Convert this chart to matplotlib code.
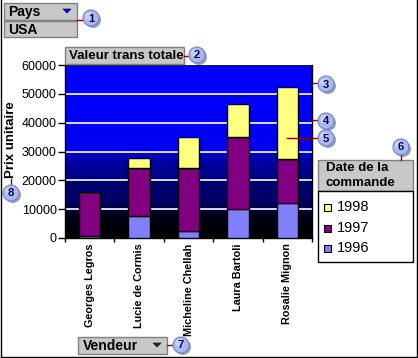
import matplotlib
matplotlib.use("Agg")
import matplotlib.pyplot as plt
import numpy as np
from matplotlib.patches import Rectangle, Circle, Polygon
from matplotlib.colors import LinearSegmentedColormap

plt.rcParams['font.family'] = ['Liberation Sans Narrow', 'Liberation Sans', 'DejaVu Sans']

# ---- data ----
vendeurs = ["Georges Legros", "Lucie de Cormis", "Micheline Chellah", "Laura Bartoli", "Rosalie Mignon"]
annees = ["1996", "1997", "1998"]
v1996 = [600, 7800, 2300, 10000, 12300]
v1997 = [15500, 16400, 21900, 25000, 15100]
v1998 = [0, 3500, 10700, 11500, 24900]
yticks = [0, 10000, 20000, 30000, 40000, 50000, 60000]
couleurs = {"1996": "#8080FF", "1997": "#800080", "1998": "#FFFF80"}

W, H = 418, 358
fig = plt.figure(figsize=(W / 100, H / 100), dpi=100)
fig.patch.set_facecolor("white")

# main axes (pixel box: x 65..312, y 65..238)
ax = fig.add_axes([65 / W, 1 - 238 / H, 247 / W, 173 / H])
x = np.arange(len(vendeurs))
ax.set_xlim(-0.5, len(vendeurs) - 0.5)
ax.set_ylim(0, 60000)

# gradient background
stops = [(0.0, "#000000"), (8000 / 60000, "#000018"), (12000 / 60000, "#000060"),
         (20000 / 60000, "#000078"), (27000 / 60000, "#0000A8"), (31000 / 60000, "#0000F0"),
         (1.0, "#0000FF")]
cmap = LinearSegmentedColormap.from_list("bg", stops)
grad = np.linspace(0, 1, 256).reshape(-1, 1)
ax.imshow(grad, extent=[-0.5, len(vendeurs) - 0.5, 0, 60000], origin="lower",
          aspect="auto", cmap=cmap, zorder=0)

for yv in yticks[1:-1]:
    ax.axhline(yv, color="white", lw=1.2, zorder=1)

bw = 0.43
b = np.zeros(len(vendeurs))
for year, vals in zip(annees, [v1996, v1997, v1998]):
    vals = np.array(vals)
    ax.bar(x, vals, bw, bottom=b, color=couleurs[year], edgecolor="black", lw=1.0, zorder=3)
    b = b + vals

ax.set_yticks(yticks)
ax.set_yticklabels([str(t) for t in yticks], fontsize=9)
ax.tick_params(axis="y", length=5, width=1, pad=1, color="black")
ax.set_xticks(x)
ax.set_xticklabels(vendeurs, rotation=90, fontsize=7.8, fontweight="bold", va="top", ha="center")
ax.tick_params(axis="x", which="major", length=0, pad=4)
ax.set_xticks(np.arange(-0.5, len(vendeurs)), minor=True)
ax.tick_params(axis="x", which="minor", length=3, width=1, color="black")
for s in ["left", "bottom", "right"]:
    ax.spines[s].set_color("black")
    ax.spines[s].set_linewidth(1)
ax.spines["top"].set_visible(False)

# ---- overlay in pixel coords ----
ov = fig.add_axes([0, 0, 1, 1], facecolor="none")
ov.set_xlim(0, W)
ov.set_ylim(H, 0)
ov.axis("off")

gray = "#C8C8C8"
edge = "#808080"

def box(x0, y0, x1, y1, fc=gray, ec=edge, lw=1):
    ov.add_patch(Rectangle((x0, y0), x1 - x0, y1 - y0, facecolor=fc, edgecolor=ec, lw=lw, zorder=5))

def tri(cx, cy, color):
    ov.add_patch(Polygon([[cx - 4, cy - 2], [cx + 4, cy - 2], [cx, cy + 2]], closed=True,
                         facecolor=color, edgecolor=color, lw=0.5, zorder=6))

def callout(cx, cy, n):
    ov.add_patch(Circle((cx + 2, cy + 2), 8, facecolor="#303030", alpha=0.45, edgecolor="none", zorder=7))
    ov.add_patch(Circle((cx, cy), 8, facecolor="#A9BAF2", edgecolor="#6F82C8", lw=0.8, zorder=8))
    ov.add_patch(Circle((cx - 2, cy - 2), 4, facecolor="#D2DCFF", edgecolor="none", alpha=0.7, zorder=8))
    ov.text(cx, cy + 0.5, str(n), ha="center", va="center", fontsize=8, fontweight="bold",
            color="#000050", zorder=9)

def lead(xs, ys):
    ov.plot(xs, ys, color="#900000", lw=1, zorder=6)

# Pays / USA
box(4, 3, 77, 20)
ov.text(8, 12, "Pays", fontsize=10, fontweight="bold", va="center", ha="left", zorder=6)
tri(67, 11, "#0000C0")
box(4, 21, 77, 37)
ov.text(8, 29.5, "USA", fontsize=10, fontweight="bold", va="center", ha="left", zorder=6)
lead([77, 84], [20, 20])
callout(91, 18, 1)

# Valeur trans totale
box(65, 47, 184, 64)
ov.text(69, 56, "Valeur trans totale", fontsize=9.5, fontweight="bold", va="center", ha="left", zorder=6)
lead([184, 190], [56, 56])
callout(197, 55, 2)

# callouts 3, 4, 5
lead([312, 319], [83, 83])
callout(326, 84, 3)
lead([312, 319], [120, 120])
callout(326, 121, 4)
lead([287, 319], [138, 138])
callout(326, 138, 5)

# legend
box(318, 160, 413, 191)
ov.text(326, 168, "Date de la", fontsize=9.5, fontweight="bold", va="center", ha="left", zorder=6)
ov.text(326, 183, "commande", fontsize=9.5, fontweight="bold", va="center", ha="left", zorder=6)
lead([401, 401], [154, 160])
callout(401, 147, 6)
box(318, 191, 413, 262, fc="white", ec="black")
for yy, year in zip([207, 228, 248], ["1998", "1997", "1996"]):
    ov.add_patch(Rectangle((323.5, yy - 3.5), 7, 7, facecolor=couleurs[year], edgecolor="black",
                           lw=0.8, zorder=6))
    ov.text(337, yy, year, fontsize=10.5, va="center", ha="left", zorder=6)

# Vendeur
box(78, 337, 167, 354)
ov.text(83, 345.5, "Vendeur", fontsize=10, fontweight="bold", va="center", ha="left", zorder=6)
tri(157, 345, "#202020")
lead([167, 174], [345, 345])
callout(181, 345, 7)

# y axis title
ov.text(11.5, 140, "Prix unitaire", rotation=90, fontsize=9.5, fontweight="bold",
        va="center", ha="center", zorder=6)
lead([11, 11], [179, 186])
callout(11, 193, 8)

# outer border (left, right, bottom)
ov.plot([0.5, 0.5], [0, H - 1.5], color="black", lw=1, zorder=10)
ov.plot([W - 1.5, W - 1.5], [0, H - 1.5], color="black", lw=1, zorder=10)
ov.plot([0.5, W - 1.5], [H - 1.5, H - 1.5], color="black", lw=1, zorder=10)

fig.savefig("out.png", dpi=100)
